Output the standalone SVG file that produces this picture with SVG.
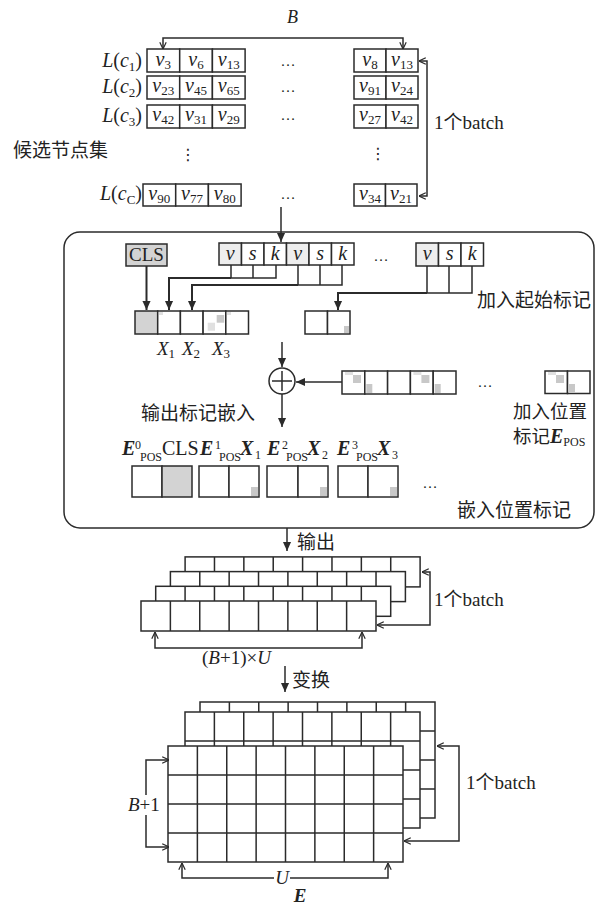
<svg xmlns="http://www.w3.org/2000/svg" width="597" height="908" viewBox="0 0 597 908">
<style>
.c{fill:#fff;stroke:#2b2b2b;stroke-width:1.5}
.gr{fill:#d3d3d3;stroke:#2b2b2b;stroke-width:1.5}
.lg{fill:#eeeeee;stroke:#2b2b2b;stroke-width:1.5}
.ln{fill:none;stroke:#2b2b2b;stroke-width:1.5}
.tk{fill:none;stroke:#2b2b2b;stroke-width:2}
.p{fill:#c8c8c8}
.pl{fill:#e0e0e0}
text{font-family:"Liberation Serif","Noto Sans CJK SC",serif;font-size:20px;fill:#222}
.m{text-anchor:middle}
.e{text-anchor:end}
.i{font-style:italic}
.b{font-style:italic;font-weight:bold}
.s{font-size:12px}
.s13{font-size:13px}
.cn{font-family:"Noto Sans CJK SC",sans-serif;font-size:19px}
.lat{font-family:"Liberation Serif",serif}
.dt{font-family:"DejaVu Sans",sans-serif;font-size:16px}
.f19{font-size:19px}
</style>
<defs>
<marker id="ao" viewBox="0 0 10 10" refX="9.5" refY="5" markerWidth="8" markerHeight="8" markerUnits="userSpaceOnUse" orient="auto-start-reverse"><path d="M1,1L9.5,5L1,9" fill="none" stroke="#2b2b2b" stroke-width="1.5"/></marker>
<marker id="af" viewBox="0 0 10 10" refX="10" refY="5" markerWidth="9" markerHeight="9" markerUnits="userSpaceOnUse" orient="auto"><path d="M0,0.5L10,5L0,9.5z" fill="#2b2b2b"/></marker>
<g id="strip"><rect width="235" height="30" class="c"/><path class="ln" d="M29.375,0v30M58.75,0v30M88.125,0v30M117.5,0v30M146.875,0v30M176.25,0v30M205.625,0v30"/></g>
<g id="grid"><rect width="235" height="116" class="c"/><path class="ln" d="M29.375,0v116M58.75,0v116M88.125,0v116M117.5,0v116M146.875,0v116M176.25,0v116M205.625,0v116M0,29h235M0,58h235M0,87h235"/></g>
<g id="pa"><rect x="3" y="1" width="8" height="3" class="pl"/><rect x="11" y="4" width="8" height="8" class="p"/></g>
<g id="pb"><rect x="1.5" y="13" width="6" height="9" class="p"/></g>
</defs>

<text class="i" x="287" y="23" style="font-size:18px">B</text>

<g id="candidates">
<text class="cn" x="13" y="157">候选节点集</text>
<g id="row1">
<text class="e" x="142" y="67"><tspan class="i">L</tspan>(<tspan class="i">c</tspan><tspan class="s13" dy="4">1</tspan><tspan dy="-4">)</tspan></text>
<rect x="147" y="49" width="32.7" height="23" class="c"/><rect x="179.7" y="49" width="32.7" height="23" class="c"/><rect x="212.4" y="49" width="32.7" height="23" class="c"/>
<text class="m" x="163.3" y="66"><tspan class="i">v</tspan><tspan class="s13" dy="3">3</tspan></text>
<text class="m" x="196" y="66"><tspan class="i">v</tspan><tspan class="s13" dy="3">6</tspan></text>
<text class="m" x="228.7" y="66"><tspan class="i">v</tspan><tspan class="s13" dy="3">13</tspan></text>
<text class="m" x="288" y="66" style="font-size:15px">…</text>
<rect x="354" y="49" width="32" height="23" class="c"/><rect x="386" y="49" width="32" height="23" class="c"/>
<text class="m" x="370" y="66"><tspan class="i">v</tspan><tspan class="s13" dy="3">8</tspan></text>
<text class="m" x="402" y="66"><tspan class="i">v</tspan><tspan class="s13" dy="3">13</tspan></text>
</g>
<g id="row2">
<text class="e" x="142" y="93"><tspan class="i">L</tspan>(<tspan class="i">c</tspan><tspan class="s13" dy="4">2</tspan><tspan dy="-4">)</tspan></text>
<rect x="147" y="76" width="32.7" height="23" class="c"/><rect x="179.7" y="76" width="32.7" height="23" class="c"/><rect x="212.4" y="76" width="32.7" height="23" class="c"/>
<text class="m" x="163.3" y="92"><tspan class="i">v</tspan><tspan class="s13" dy="3">23</tspan></text>
<text class="m" x="196" y="92"><tspan class="i">v</tspan><tspan class="s13" dy="3">45</tspan></text>
<text class="m" x="228.7" y="92"><tspan class="i">v</tspan><tspan class="s13" dy="3">65</tspan></text>
<text class="m" x="288" y="92" style="font-size:15px">…</text>
<rect x="354" y="76" width="32" height="23" class="c"/><rect x="386" y="76" width="32" height="23" class="c"/>
<text class="m" x="370" y="92"><tspan class="i">v</tspan><tspan class="s13" dy="3">91</tspan></text>
<text class="m" x="402" y="92"><tspan class="i">v</tspan><tspan class="s13" dy="3">24</tspan></text>
</g>
<g id="row3">
<text class="e" x="142" y="122"><tspan class="i">L</tspan>(<tspan class="i">c</tspan><tspan class="s13" dy="4">3</tspan><tspan dy="-4">)</tspan></text>
<rect x="147" y="105" width="32.7" height="23" class="c"/><rect x="179.7" y="105" width="32.7" height="23" class="c"/><rect x="212.4" y="105" width="32.7" height="23" class="c"/>
<text class="m" x="163.3" y="121"><tspan class="i">v</tspan><tspan class="s13" dy="3">42</tspan></text>
<text class="m" x="196" y="121"><tspan class="i">v</tspan><tspan class="s13" dy="3">31</tspan></text>
<text class="m" x="228.7" y="121"><tspan class="i">v</tspan><tspan class="s13" dy="3">29</tspan></text>
<text class="m" x="288" y="120" style="font-size:15px">…</text>
<rect x="354" y="105" width="32" height="23" class="c"/><rect x="386" y="105" width="32" height="23" class="c"/>
<text class="m" x="370" y="121"><tspan class="i">v</tspan><tspan class="s13" dy="3">27</tspan></text>
<text class="m" x="402" y="121"><tspan class="i">v</tspan><tspan class="s13" dy="3">42</tspan></text>
</g>
<text class="m dt" x="188" y="160">⋮</text>
<text class="m dt" x="378" y="159">⋮</text>
<g id="rowC">
<text class="e" x="142" y="200"><tspan class="i">L</tspan>(<tspan class="i">c</tspan><tspan class="s13" dy="4">C</tspan><tspan dy="-4">)</tspan></text>
<rect x="143" y="184" width="32.7" height="22" class="c"/><rect x="175.7" y="184" width="32.7" height="22" class="c"/><rect x="208.4" y="184" width="32.7" height="22" class="c"/>
<text class="m" x="159.3" y="200"><tspan class="i">v</tspan><tspan class="s13" dy="3">90</tspan></text>
<text class="m" x="192" y="200"><tspan class="i">v</tspan><tspan class="s13" dy="3">77</tspan></text>
<text class="m" x="224.7" y="200"><tspan class="i">v</tspan><tspan class="s13" dy="3">80</tspan></text>
<text class="m" x="288" y="199" style="font-size:15px">…</text>
<rect x="354" y="184" width="31.5" height="22" class="c"/><rect x="385.5" y="184" width="31.5" height="22" class="c"/>
<text class="m" x="370" y="200"><tspan class="i">v</tspan><tspan class="s13" dy="3">34</tspan></text>
<text class="m" x="401" y="200"><tspan class="i">v</tspan><tspan class="s13" dy="3">21</tspan></text>
</g>
<text class="f19" x="434" y="129">1个batch</text>
</g>

<g id="module">
<rect x="64" y="232" width="530" height="296" rx="16" fill="none" stroke="#2b2b2b" stroke-width="1.5"/>
<g id="cls">
<rect x="126" y="244" width="41" height="22" class="gr"/>
<text class="m" x="146.5" y="261" style="font-size:19px">CLS</text>
</g>
<g id="vsk1">
<rect x="219" y="243" width="22.5" height="22" class="lg"/><rect x="241.5" y="243" width="22.5" height="22" class="c"/><rect x="264" y="243" width="22.5" height="22" class="c"/>
<rect x="286.5" y="243" width="22.5" height="22" class="lg"/><rect x="309" y="243" width="22.5" height="22" class="c"/><rect x="331.5" y="243" width="22.5" height="22" class="c"/>
<text class="m i" x="230.2" y="260">v</text><text class="m i" x="252.7" y="260">s</text><text class="m i" x="275.2" y="260">k</text>
<text class="m i" x="297.7" y="260">v</text><text class="m i" x="320.2" y="260">s</text><text class="m i" x="342.7" y="260">k</text>
<path class="ln" d="M231,265V278H276V265M253,265V278M298,265V285H342V265M320,265V285"/>
</g>
<text class="m" x="381" y="261" style="font-size:15px">…</text>
<g id="vsk2">
<rect x="416" y="243" width="22.5" height="23" class="lg"/><rect x="438.5" y="243" width="22.5" height="23" class="c"/><rect x="461" y="243" width="22.5" height="23" class="c"/>
<text class="m i" x="427.2" y="260">v</text><text class="m i" x="449.7" y="260">s</text><text class="m i" x="472.2" y="260">k</text>
<path class="ln" d="M427,266V293H472V266M449,266V293"/>
</g>
<text class="cn" x="477" y="307">加入起始标记</text>
<g id="seq1">
<rect x="135" y="311" width="22.7" height="23" class="gr"/>
<rect x="157.7" y="311" width="22.7" height="23" class="c"/>
<rect x="180.4" y="311" width="22.7" height="23" class="c"/>
<rect x="203.1" y="311" width="22.7" height="23" class="c"/>
<rect x="225.8" y="311" width="22.7" height="23" class="c"/>
<rect x="159" y="312" width="4" height="3" class="pl"/>
<rect x="216.7" y="315" width="7.5" height="7.7" class="p"/>
<rect x="207.7" y="322.7" width="7.3" height="8" class="pl"/>
<rect x="227" y="312" width="4" height="3" class="pl"/>
<text class="i" x="157" y="355" style="font-size:19px">X<tspan class="s13 lat" dy="3" style="font-style:normal">1</tspan></text>
<text class="i" x="182" y="355" style="font-size:19px">X<tspan class="s13" dy="3" style="font-style:normal">2</tspan></text>
<text class="i" x="212" y="355" style="font-size:19px">X<tspan class="s13" dy="3" style="font-style:normal">3</tspan></text>
</g>
<g id="seq2">
<rect x="305" y="311" width="22.5" height="23" class="c"/>
<rect x="327.5" y="311" width="22.5" height="23" class="c"/>
<rect x="344" y="326" width="5" height="7" class="p"/>
</g>
<g id="plus">
<circle cx="282" cy="381" r="13" fill="#fff" stroke="#2b2b2b" stroke-width="1.5"/>
<path class="ln" d="M272,381H292M282,371V391"/>
</g>
<g id="posseq">
<rect x="342" y="371" width="22.8" height="23" class="c"/>
<rect x="364.8" y="371" width="22.8" height="23" class="c"/>
<rect x="387.6" y="371" width="22.8" height="23" class="c"/>
<rect x="410.4" y="371" width="22.8" height="23" class="c"/>
<rect x="433.2" y="371" width="22.8" height="23" class="c"/>
<use href="#pa" x="342" y="371"/><use href="#pb" x="364.8" y="371"/>
<use href="#pa" x="410.4" y="371"/><use href="#pb" x="433.2" y="371"/>
<text class="m" x="485" y="387" style="font-size:15px">…</text>
<rect x="545" y="371" width="22.5" height="22.5" class="c"/>
<rect x="567.5" y="371" width="22.5" height="22.5" class="c"/>
<use href="#pa" x="545" y="371"/><use href="#pb" x="567.5" y="371"/>
<text class="cn" x="513" y="418" style="font-size:18.5px">加入位置</text>
<text class="cn" x="513" y="443" style="font-size:18.5px">标记<tspan class="lat b" style="font-size:20px">E</tspan><tspan class="lat s" dy="3">POS</tspan></text>
</g>
<text class="cn" x="141" y="420">输出标记嵌入</text>
<g id="emb">
<text x="122" y="455"><tspan class="b">E</tspan><tspan class="s" x="135" y="449">0</tspan><tspan class="s" x="140" y="461">POS</tspan><tspan x="162" y="455">CLS</tspan></text>
<text x="200" y="455"><tspan class="b">E</tspan><tspan class="s" x="215" y="449">1</tspan><tspan class="s" x="219" y="461">POS</tspan><tspan class="b" x="240" y="455">X</tspan><tspan class="s" x="255" y="459">1</tspan></text>
<text x="267" y="455"><tspan class="b">E</tspan><tspan class="s" x="282" y="449">2</tspan><tspan class="s" x="286" y="461">POS</tspan><tspan class="b" x="307" y="455">X</tspan><tspan class="s" x="322" y="459">2</tspan></text>
<text x="337" y="455"><tspan class="b">E</tspan><tspan class="s" x="352" y="449">3</tspan><tspan class="s" x="356" y="461">POS</tspan><tspan class="b" x="377" y="455">X</tspan><tspan class="s" x="392" y="459">3</tspan></text>
<rect x="132" y="466" width="30" height="31" class="c"/><rect x="162" y="466" width="30" height="31" class="gr"/>
<rect x="199" y="466" width="30" height="31" class="c"/><rect x="229" y="466" width="30" height="31" class="c"/>
<rect x="267" y="466" width="31" height="31" class="c"/><rect x="298" y="466" width="30" height="31" class="c"/>
<rect x="338" y="466" width="30" height="31" class="c"/><rect x="368" y="466" width="30" height="31" class="c"/>
<rect x="251" y="487" width="7" height="9" class="p"/>
<rect x="320" y="487" width="7" height="9" class="p"/>
<rect x="390" y="487" width="7" height="9" class="p"/>
<text class="m" x="430" y="488" style="font-size:15px">…</text>
</g>
<text class="cn" x="457" y="517">嵌入位置标记</text>
</g>

<g id="stack1">
<use href="#strip" x="185.1" y="556.9"/>
<use href="#strip" x="170.4" y="571.6"/>
<use href="#strip" x="155.7" y="586.3"/>
<use href="#strip" x="141" y="601"/>
<text class="cn" x="297" y="549">输出</text>
<text class="f19" x="434" y="606">1个batch</text>
<text x="202" y="664" style="font-size:19px">(<tspan class="i">B</tspan>+1)×<tspan class="i">U</tspan></text>
</g>

<g id="stack2">
<use href="#grid" x="200" y="702"/>
<use href="#grid" x="185" y="712"/>
<use href="#grid" x="168" y="746"/>
<text class="cn" x="292" y="687">变换</text>
<text class="f19" x="466" y="789">1个batch</text>
</g>

<g id="connectors">
<path class="ln" d="M163,49V38H403V49" marker-start="url(#ao)" marker-end="url(#ao)"/>
<path class="ln" d="M419,61H427V196H419" marker-start="url(#ao)" marker-end="url(#ao)"/>
<path class="ln" d="M281,207V242" marker-end="url(#af)"/>
<path class="tk" d="M146.5,266V310" marker-end="url(#af)"/>
<path class="tk" d="M231,278H169V310" marker-end="url(#af)"/>
<path class="tk" d="M298,285H192V310" marker-end="url(#af)"/>
<path class="tk" d="M427,293H338V310" marker-end="url(#af)"/>
<path class="ln" d="M282,342V367" marker-end="url(#af)"/>
<path class="ln" d="M282,394V427" marker-end="url(#af)"/>
<path class="ln" d="M342,382H296" marker-end="url(#af)"/>
<path class="ln" d="M287,528V551" marker-end="url(#af)"/>
<path class="ln" d="M422,572H430V625H377" marker-start="url(#ao)" marker-end="url(#ao)"/>
<path class="ln" d="M155,632V648H362V632" marker-start="url(#ao)" marker-end="url(#ao)"/>
<path class="ln" d="M285,666V692" marker-end="url(#af)"/>
<path class="ln" d="M169,760H146V847H169" marker-start="url(#ao)" marker-end="url(#ao)"/>
<path class="ln" d="M437,746H459V841H404" marker-start="url(#ao)" marker-end="url(#ao)"/>
<path class="ln" d="M182,863V878H388V863" marker-start="url(#ao)" marker-end="url(#ao)"/>
<rect x="126" y="795" width="36" height="20" fill="#fff"/>
<text x="128" y="811" style="font-size:19px"><tspan class="i">B</tspan>+1</text>
<rect x="274" y="869" width="16" height="17" fill="#fff"/>
<text class="m i" x="282" y="884" style="font-size:19px">U</text>
<text class="m b" x="300" y="902" style="font-size:19px">E</text>
</g>
</svg>
